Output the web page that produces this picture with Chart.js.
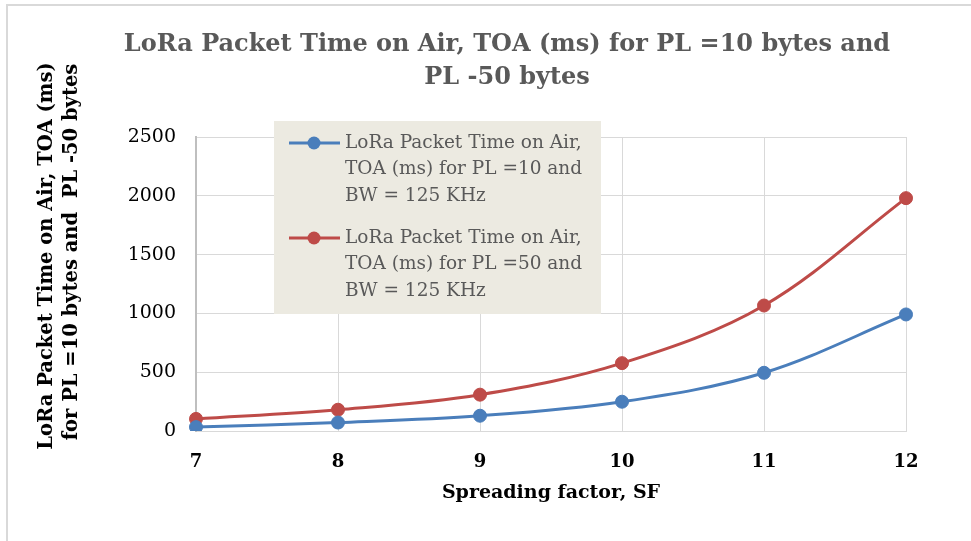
<!DOCTYPE html>
<html>
<head>
<meta charset="utf-8">
<script src="https://cdn.jsdelivr.net/npm/chart.js@4.4.1/dist/chart.umd.min.js"></script>
<style>
  html, body { margin: 0; padding: 0; background: #ffffff; }
  #wrap { position: relative; width: 971px; height: 541px; }
  canvas { display: block; }
</style>
</head>
<body>
<div id="wrap"><canvas id="toaChart" width="971" height="541"></canvas></div>
<script>
// Spreading factors on the x axis
const spreadingFactors = ['7', '8', '9', '10', '11', '12'];
// Time on air (ms), payload 10 bytes, BW 125 kHz
const toaPayload10 = [33, 72, 130, 249, 495, 991];
// Time on air (ms), payload 50 bytes, BW 125 kHz
const toaPayload50 = [103, 181, 309, 577, 1067, 1980];
// Value axis ticks
const yTickValues = [0, 500, 1000, 1500, 2000, 2500];

const chartTitle = ['LoRa Packet Time on Air, TOA (ms) for PL =10 bytes and', 'PL -50 bytes'];
const yAxisTitle = ['LoRa Packet Time on Air, TOA (ms)', 'for PL =10 bytes and  PL -50 bytes'];
const seriesLabels = [
  ['LoRa Packet Time on Air,', 'TOA (ms) for PL =10 and', 'BW = 125 KHz'],
  ['LoRa Packet Time on Air,', 'TOA (ms) for PL =50 and', 'BW = 125 KHz']
];
const seriesColors = ['#4A7EBB', '#BE4B48'];

const SERIF = '"DejaVu Serif", "Liberation Serif", serif';

// Light frame around the whole chart
const framePlugin = {
  id: 'frame',
  beforeDraw(chart) {
    const ctx = chart.ctx;
    ctx.save();
    ctx.fillStyle = '#ffffff';
    ctx.fillRect(0, 0, chart.width, chart.height);
    ctx.strokeStyle = '#d9d9d9';
    ctx.lineWidth = 2;
    ctx.strokeRect(7, 5, chart.width + 20, chart.height + 20);
    ctx.restore();
  }
};

// Chart title and the rotated, two-line value axis title
const titlesPlugin = {
  id: 'titles',
  afterDraw(chart) {
    const ctx = chart.ctx;
    ctx.save();
    ctx.textAlign = 'center';
    ctx.textBaseline = 'middle';
    ctx.fillStyle = '#595959';
    ctx.font = 'bold 24px ' + SERIF;
    chartTitle.forEach((line, i) => ctx.fillText(line, 507, 45 + i * 33));

    ctx.fillStyle = '#000000';
    ctx.font = 'bold 19.5px ' + SERIF;
    ctx.translate(47, 256);
    ctx.rotate(-Math.PI / 2);
    yAxisTitle.forEach((line, i) => ctx.fillText(line, i === 0 ? 0 : 4, i * 25));
    ctx.restore();
  }
};

// Boxed legend with wrapped, three-line entries
const boxLegendPlugin = {
  id: 'boxLegend',
  afterDraw(chart) {
    const ctx = chart.ctx;
    const area = chart.chartArea;
    const x0 = area.left + 78, y0 = area.top - 16;
    const w = 327, h = 193;
    ctx.save();
    ctx.fillStyle = '#ECEAE1';
    ctx.fillRect(x0, y0, w, h);
    ctx.font = '18.5px ' + SERIF;
    ctx.textBaseline = 'middle';
    ctx.textAlign = 'left';
    const lineH = 26.5;
    chart.data.datasets.forEach((ds, i) => {
      const top = y0 + 22 + i * 95;
      const color = ds.borderColor;
      ctx.strokeStyle = color;
      ctx.lineWidth = 3;
      ctx.beginPath();
      ctx.moveTo(x0 + 15, top);
      ctx.lineTo(x0 + 66, top);
      ctx.stroke();
      ctx.fillStyle = color;
      ctx.beginPath();
      ctx.arc(x0 + 40, top, 6.5, 0, Math.PI * 2);
      ctx.fill();
      ctx.fillStyle = '#595959';
      seriesLabels[i].forEach((line, j) => {
        ctx.fillText(line, x0 + 71, top + j * lineH);
      });
    });
    ctx.restore();
  }
};

new Chart(document.getElementById('toaChart'), {
  type: 'line',
  data: {
    labels: spreadingFactors,
    datasets: [
      {
        label: seriesLabels[0].join(' '),
        data: toaPayload10,
        borderColor: seriesColors[0],
        backgroundColor: seriesColors[0],
        borderWidth: 3,
        pointRadius: 6.5,
        pointBorderWidth: 1,
        tension: 0.35,
        fill: false
      },
      {
        label: seriesLabels[1].join(' '),
        data: toaPayload50,
        borderColor: seriesColors[1],
        backgroundColor: seriesColors[1],
        borderWidth: 3,
        pointRadius: 6.5,
        pointBorderWidth: 1,
        tension: 0.35,
        fill: false
      }
    ]
  },
  options: {
    responsive: false,
    animation: false,
    devicePixelRatio: 1,
    layout: { padding: { left: 0, right: 65, top: 137, bottom: 37 } },
    plugins: {
      legend: { display: false },
      tooltip: { enabled: false },
      title: { display: false }
    },
    scales: {
      x: {
        type: 'category',
        offset: false,
        afterFit(scale) { scale.height = 73; },
        grid: { color: '#d9d9d9', lineWidth: 1, drawTicks: false },
        border: { color: '#d9d9d9', width: 1 },
        ticks: {
          color: '#000000',
          padding: 21,
          font: { family: SERIF, size: 18, weight: 'bold' }
        },
        title: {
          display: true,
          text: 'Spreading factor, SF',
          color: '#000000',
          font: { family: SERIF, size: 19, weight: 'bold' },
          padding: { top: 6, bottom: 0 }
        }
      },
      y: {
        min: 0,
        max: 2500,
        afterFit(scale) { scale.width = 196; },
        afterBuildTicks(scale) {
          scale.ticks = yTickValues.map(v => ({ value: v }));
        },
        grid: { color: '#d9d9d9', lineWidth: 1, drawTicks: false },
        border: { color: '#bfbfbf', width: 2 },
        ticks: {
          color: '#000000',
          padding: 20,
          font: { family: SERIF, size: 19 },
          callback: (value) => String(value)
        },
        title: { display: false }
      }
    }
  },
  plugins: [framePlugin, titlesPlugin, boxLegendPlugin]
});
</script>
</body>
</html>
